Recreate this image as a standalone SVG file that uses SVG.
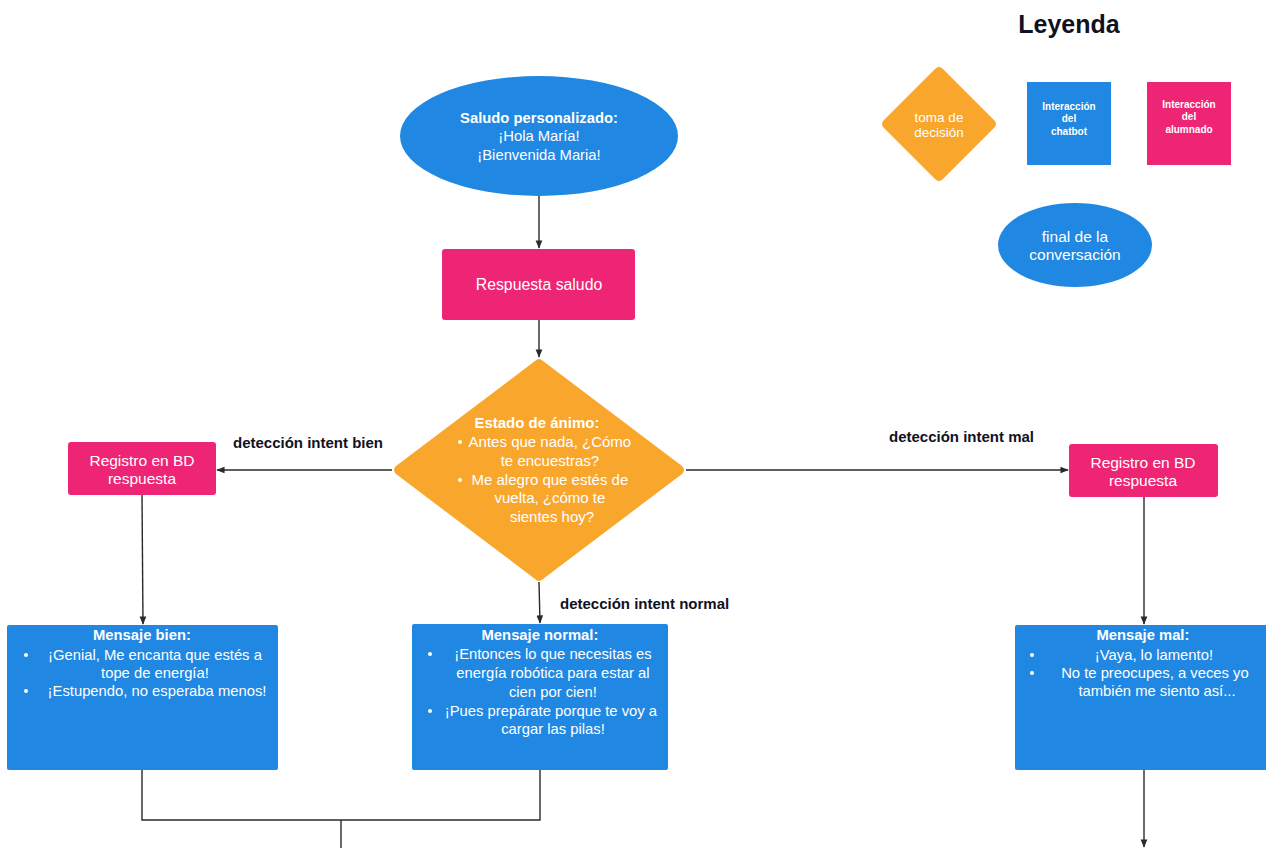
<svg xmlns="http://www.w3.org/2000/svg" width="1266" height="848" viewBox="0 0 1266 848">
  <style>
    .blue { fill: #2087E2; }
    .pink { fill: #EE2574; }
    .orange { fill: #F9A62D; }
    .t { font-family: "Liberation Sans", Arial, sans-serif; fill: #ffffff; text-anchor: middle; }
    .b { font-weight: bold; }
    .lbl { font-family: "Liberation Sans", Arial, sans-serif; font-weight: bold; font-size: 15px; fill: #111122; }
    .edge { stroke: #2a2a2a; stroke-width: 1.4; fill: none; }
  </style>
  <defs>
    <marker id="arrow" viewBox="0 0 10 10" refX="9" refY="5" markerWidth="6" markerHeight="6" orient="auto-start-reverse">
      <path d="M0,1 L10,5 L0,9 z" fill="#2a2a2a"/>
    </marker>
  </defs>
  <rect width="1266" height="848" fill="#ffffff"/>

  <!-- Legend -->
  <g id="legend">
    <text x="1069" y="33" font-family="'Liberation Sans', Arial, sans-serif" font-weight="bold" font-size="25" fill="#111122" text-anchor="middle">Leyenda</text>
    <g id="legend-decision">
      <path class="orange" d="M935,69 Q939,65 943,69 L994,120 Q998,124 994,128 L943,179 Q939,183 935,179 L884,128 Q880,124 884,120 Z"/>
      <text class="t" font-size="13.5"><tspan x="939" y="122">toma de</tspan><tspan x="939" y="137">decisión</tspan></text>
    </g>
    <g id="legend-chatbot">
      <rect class="blue" x="1027" y="82" width="84" height="83"/>
      <text class="t b" font-size="10"><tspan x="1069" y="110">Interacción</tspan><tspan x="1069" y="122">del</tspan><tspan x="1069" y="135">chatbot</tspan></text>
    </g>
    <g id="legend-student">
      <rect class="pink" x="1147" y="82" width="84" height="83"/>
      <text class="t b" font-size="10"><tspan x="1189" y="108">Interacción</tspan><tspan x="1189" y="120">del</tspan><tspan x="1189" y="133">alumnado</tspan></text>
    </g>
    <g id="legend-end">
      <ellipse class="blue" cx="1075" cy="245" rx="77" ry="42"/>
      <text class="t" font-size="15.5"><tspan x="1075" y="242">final de la</tspan><tspan x="1075" y="260">conversación</tspan></text>
    </g>
  </g>

  <!-- Connectors -->
  <g id="connectors">
    <line class="edge" x1="539" y1="196" x2="539" y2="248" marker-end="url(#arrow)"/>
    <line class="edge" x1="539" y1="320" x2="539" y2="357" marker-end="url(#arrow)"/>
    <line class="edge" x1="392" y1="470" x2="217" y2="470" marker-end="url(#arrow)"/>
    <line class="edge" x1="686" y1="470" x2="1068" y2="470" marker-end="url(#arrow)"/>
    <line class="edge" x1="142" y1="495" x2="143" y2="624" marker-end="url(#arrow)"/>
    <line class="edge" x1="539" y1="582" x2="540" y2="623" marker-end="url(#arrow)"/>
    <line class="edge" x1="1144" y1="497" x2="1144" y2="624" marker-end="url(#arrow)"/>
    <polyline class="edge" points="142,770 142,820 540,820 540,770"/>
    <line class="edge" x1="341" y1="820" x2="341" y2="860"/>
    <line class="edge" x1="1144" y1="770" x2="1144" y2="847" marker-end="url(#arrow)"/>
  </g>

  <!-- Edge labels -->
  <g id="edge-labels">
    <text class="lbl" x="233" y="448">detección intent bien</text>
    <text class="lbl" x="889" y="442">detección intent mal</text>
    <text class="lbl" x="560" y="609">detección intent normal</text>
  </g>

  <!-- Greeting -->
  <g id="saludo">
    <ellipse class="blue" cx="539" cy="136" rx="139" ry="60"/>
    <text class="t" font-size="14.8"><tspan x="539" y="123" font-weight="bold">Saludo personalizado:</tspan><tspan x="539" y="141">¡Hola María!</tspan><tspan x="539" y="160">¡Bienvenida Maria!</tspan></text>
  </g>

  <g id="respuesta-saludo">
    <rect class="pink" x="442" y="249" width="193" height="71" rx="3"/>
    <text class="t" x="539" y="290" font-size="15.8">Respuesta saludo</text>
  </g>

  <!-- Decision -->
  <g id="estado-animo">
    <path class="orange" d="M535,361 Q539,357 543,361 L682,466 Q686,470 682,474 L543,579 Q539,583 535,579 L396,474 Q392,470 396,466 Z"/>
    <text class="t" font-size="15">
      <tspan x="539" y="428" font-weight="bold">Estado de ánimo:</tspan>
      <tspan x="552" y="447">Antes que nada, ¿Cómo</tspan>
      <tspan x="552" y="466">te encuestras?</tspan>
      <tspan x="552" y="485">Me alegro que estés de</tspan>
      <tspan x="552" y="503">vuelta, ¿cómo te</tspan>
      <tspan x="552" y="522">sientes hoy?</tspan>
    </text>
    <circle cx="460" cy="442" r="2" fill="#ffffff"/>
    <circle cx="460" cy="480" r="2" fill="#ffffff"/>
  </g>

  <g id="registro-bien">
    <rect class="pink" x="68" y="442" width="148" height="53" rx="3"/>
    <text class="t" font-size="15.5"><tspan x="142" y="466">Registro en BD</tspan><tspan x="142" y="484">respuesta</tspan></text>
  </g>

  <g id="registro-mal">
    <rect class="pink" x="1069" y="444" width="149" height="53" rx="3"/>
    <text class="t" font-size="15.5"><tspan x="1143" y="468">Registro en BD</tspan><tspan x="1143" y="486">respuesta</tspan></text>
  </g>

  <!-- Chatbot messages -->
  <g id="mensaje-bien">
    <rect class="blue" x="7" y="625" width="271" height="145" rx="2"/>
    <text class="t" font-size="14.8">
      <tspan x="144" y="640" font-weight="bold">Mensaje bien:</tspan>
      <tspan x="157" y="660">¡Genial, Me encanta que estés a</tspan>
      <tspan x="157" y="678">tope de energía!</tspan>
      <tspan x="157" y="696">¡Estupendo, no esperaba menos!</tspan>
    </text>
    <circle cx="26" cy="655" r="2" fill="#ffffff"/>
    <circle cx="26" cy="691" r="2" fill="#ffffff"/>
  </g>

  <g id="mensaje-normal">
    <rect class="blue" x="412" y="624" width="256" height="146" rx="2"/>
    <text class="t" font-size="14.8">
      <tspan x="542" y="640" font-weight="bold">Mensaje normal:</tspan>
      <tspan x="555" y="659">¡Entonces lo que necesitas es</tspan>
      <tspan x="555" y="678">energía robótica para estar al</tspan>
      <tspan x="555" y="697">cien por cien!</tspan>
      <tspan x="553" y="716">¡Pues prepárate porque te voy a</tspan>
      <tspan x="553" y="734">cargar las pilas!</tspan>
    </text>
    <circle cx="430" cy="654" r="2" fill="#ffffff"/>
    <circle cx="430" cy="711" r="2" fill="#ffffff"/>
  </g>

  <g id="mensaje-mal">
    <rect class="blue" x="1015" y="625" width="256" height="145" rx="2"/>
    <text class="t" font-size="14.8">
      <tspan x="1145" y="640" font-weight="bold">Mensaje mal:</tspan>
      <tspan x="1156" y="660">¡Vaya, lo lamento!</tspan>
      <tspan x="1157" y="678">No te preocupes, a veces yo</tspan>
      <tspan x="1157" y="696">también me siento así...</tspan>
    </text>
    <circle cx="1032" cy="655" r="2" fill="#ffffff"/>
    <circle cx="1032" cy="673" r="2" fill="#ffffff"/>
  </g>
</svg>
